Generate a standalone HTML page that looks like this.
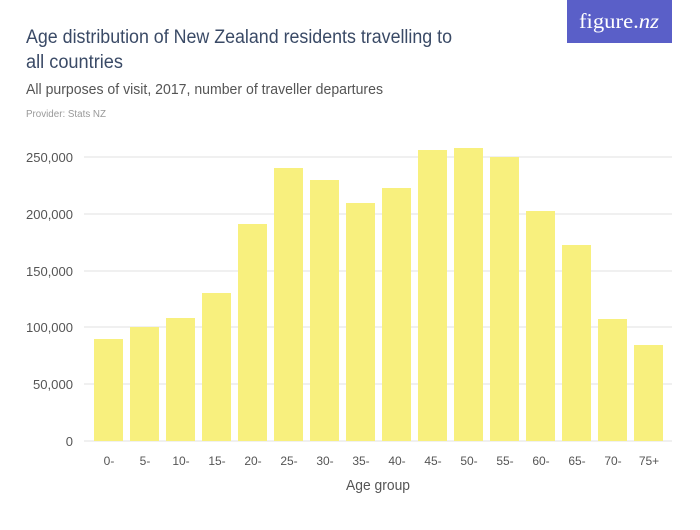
<!DOCTYPE html>
<html><head><meta charset="utf-8"><style>
body{margin:0;width:700px;height:525px;background:#fff;overflow:hidden;font-family:"Liberation Sans",sans-serif;}
</style></head><body>
<svg width="700" height="525" xmlns="http://www.w3.org/2000/svg" font-family="'Liberation Sans',sans-serif">
<rect x="567" y="0" width="105" height="43" fill="#5a5fc8"/>
<text x="579" y="28" font-family="'Liberation Serif',serif" font-size="21" fill="#fff" textLength="80" lengthAdjust="spacingAndGlyphs">figure.<tspan font-style="italic">nz</tspan></text>
<text x="26" y="43" font-size="19" fill="#3a4a66" textLength="426" lengthAdjust="spacingAndGlyphs">Age distribution of New Zealand residents travelling to</text>
<text x="26" y="68" font-size="19" fill="#3a4a66" textLength="97" lengthAdjust="spacingAndGlyphs">all countries</text>
<text x="26" y="94" font-size="15" fill="#555" textLength="357" lengthAdjust="spacingAndGlyphs">All purposes of visit, 2017, number of traveller departures</text>
<text x="26" y="117" font-size="10" fill="#999" textLength="80" lengthAdjust="spacingAndGlyphs">Provider: Stats NZ</text>
<g stroke="#e2e2e2" stroke-width="1">
<line x1="84" x2="672" y1="157" y2="157"/><line x1="84" x2="672" y1="214" y2="214"/>
<line x1="84" x2="672" y1="271" y2="271"/><line x1="84" x2="672" y1="327" y2="327"/>
<line x1="84" x2="672" y1="384" y2="384"/><line x1="84" x2="672" y1="441" y2="441"/>
</g>
<g font-size="13" fill="#555" text-anchor="end">
<text x="73" y="162" textLength="47" lengthAdjust="spacingAndGlyphs">250,000</text>
<text x="73" y="219" textLength="47" lengthAdjust="spacingAndGlyphs">200,000</text>
<text x="73" y="276" textLength="47" lengthAdjust="spacingAndGlyphs">150,000</text>
<text x="73" y="332" textLength="47" lengthAdjust="spacingAndGlyphs">100,000</text>
<text x="73" y="389" textLength="40" lengthAdjust="spacingAndGlyphs">50,000</text>
<text x="73" y="446">0</text>
</g>
<g fill="#f8f07e">
<rect x="94" y="339" width="29" height="102"/>
<rect x="130" y="327" width="29" height="114"/>
<rect x="166" y="318" width="29" height="123"/>
<rect x="202" y="293" width="29" height="148"/>
<rect x="238" y="224" width="29" height="217"/>
<rect x="274" y="168" width="29" height="273"/>
<rect x="310" y="180" width="29" height="261"/>
<rect x="346" y="203" width="29" height="238"/>
<rect x="382" y="188" width="29" height="253"/>
<rect x="418" y="150" width="29" height="291"/>
<rect x="454" y="148" width="29" height="293"/>
<rect x="490" y="157" width="29" height="284"/>
<rect x="526" y="211" width="29" height="230"/>
<rect x="562" y="245" width="29" height="196"/>
<rect x="598" y="319" width="29" height="122"/>
<rect x="634" y="345" width="29" height="96"/>
</g>
<g font-size="12" fill="#555" text-anchor="middle">
<text x="109" y="465">0-</text><text x="145" y="465">5-</text><text x="181" y="465">10-</text><text x="217" y="465">15-</text>
<text x="253" y="465">20-</text><text x="289" y="465">25-</text><text x="325" y="465">30-</text><text x="361" y="465">35-</text>
<text x="397" y="465">40-</text><text x="433" y="465">45-</text><text x="469" y="465">50-</text><text x="505" y="465">55-</text>
<text x="541" y="465">60-</text><text x="577" y="465">65-</text><text x="613" y="465">70-</text><text x="649" y="465">75+</text>
</g>
<text x="378" y="490" font-size="15" fill="#555" text-anchor="middle" textLength="64" lengthAdjust="spacingAndGlyphs">Age group</text>
</svg>
</body></html>
